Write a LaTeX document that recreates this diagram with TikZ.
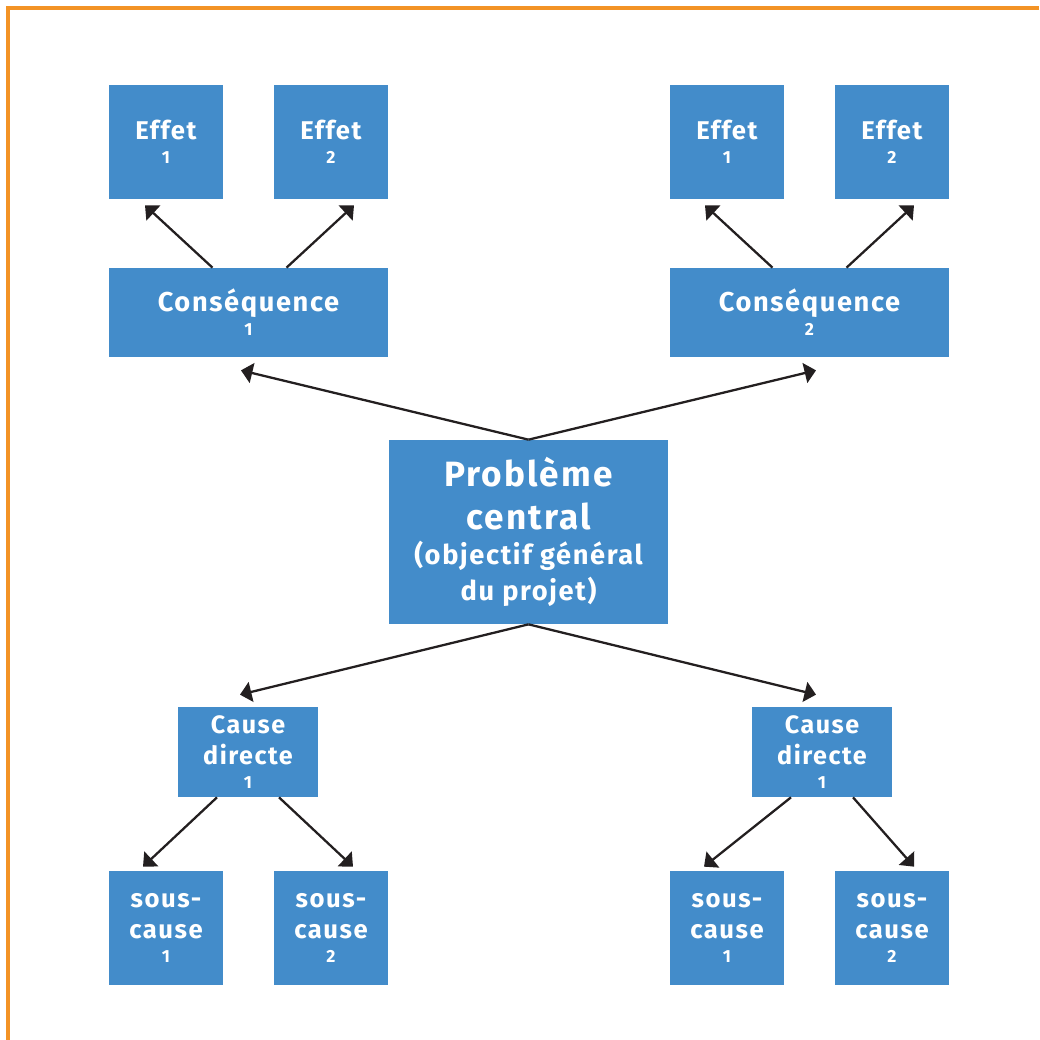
\documentclass[tikz,border=0pt]{standalone}
\usepackage{fontspec}
\setsansfont{Fira Sans}[LetterSpace=6,Ligatures=NoCommon]
\usetikzlibrary{arrows.meta,calc}
\definecolor{boxblue}{HTML}{438CCA}
\definecolor{frameorange}{HTML}{F39325}
\definecolor{arrowdark}{HTML}{231F20}
\newcommand{\numsz}{\fontsize{10}{12}\selectfont}
\newcommand{\subsz}{\fontsize{15.5}{20}\selectfont}
\tikzset{cell/.style={fill=boxblue,text=white,inner sep=0pt,align=center,font=\sffamily\bfseries\fontsize{15.5}{17.6}\selectfont},
  sqcell/.style={cell,minimum width=2.28cm,minimum height=2.28cm,font=\sffamily\bfseries\fontsize{14.6}{17.6}\selectfont},
  widecell/.style={cell,minimum width=5.58cm,minimum height=1.78cm},
  causecell/.style={cell,minimum width=2.8cm,minimum height=1.8cm,font=\sffamily\bfseries\fontsize{14.3}{17.6}\selectfont},
  probcell/.style={cell,minimum width=5.58cm,minimum height=3.68cm,font=\sffamily\bfseries\fontsize{20}{24.5}\selectfont},
  arr/.style={draw=arrowdark,line width=1.3pt,-{Triangle[length=6.5pt,width=11.5pt]}}}

\begin{document}
\begin{tikzpicture}[x=0.02cm,y=-0.02cm]
    \useasboundingbox (0,0) rectangle (1039,1040);
    \draw[frameorange,line width=1.8pt] (1039,8) -- (8,8) -- (8,1040);

    % effets
    \node[sqcell] (effA1) at (166,142) {Effet\\[-4pt]{\numsz 1}};
    \node[sqcell] (effA2) at (331,142) {Effet\\[-4pt]{\numsz 2}};
    \node[sqcell] (effB1) at (727,142) {Effet\\[-4pt]{\numsz 1}};
    \node[sqcell] (effB2) at (892,142) {Effet\\[-4pt]{\numsz 2}};

    % consequences
    \node[widecell] (consA) at (248.5,312.5) {Conséquence\\[-4pt]{\numsz 1}};
    \node[widecell] (consB) at (809.5,312.5) {Conséquence\\[-4pt]{\numsz 2}};

    % probleme central
    \node[probcell] (prob) at (528.5,532) {Problème\\central\\[-4.5pt]{\subsz (objectif général}\\[-4pt]{\subsz du projet)}};

    % causes
    \node[causecell] (causeA) at (248,752) {Cause\\directe\\[-4pt]{\numsz 1}};
    \node[causecell] (causeB) at (822,752) {Cause\\directe\\[-4pt]{\numsz 1}};

    % sous-causes
    \node[sqcell] (subA1) at (166,928) {sous-\\cause\\[-4pt]{\numsz 1}};
    \node[sqcell] (subA2) at (331,928) {sous-\\cause\\[-4pt]{\numsz 2}};
    \node[sqcell] (subB1) at (727,928) {sous-\\cause\\[-4pt]{\numsz 1}};
    \node[sqcell] (subB2) at (892,928) {sous-\\cause\\[-4pt]{\numsz 2}};

    \draw[arr] ($(consA.north)+(-36,0)$) -- ($(effA1.south)+(-21,6)$);
    \draw[arr] ($(consA.north)+(38,0)$) -- ($(effA2.south)+(23,6)$);
    \draw[arr] ($(consB.north)+(-37,0)$) -- ($(effB1.south)+(-22,6)$);
    \draw[arr] ($(consB.north)+(37,0)$) -- ($(effB2.south)+(22,6)$);

    \draw[arr] (prob.north) -- ($(consA.south)+(-7.5,13)$);
    \draw[arr] (prob.north) -- ($(consB.south)+(6.5,13)$);
    \draw[arr] (prob.south) -- ($(causeA.north)+(-8,-12)$);
    \draw[arr] (prob.south) -- ($(causeB.north)+(-6,-12)$);

    \draw[arr] ($(causeA.south)+(-31,0)$) -- ($(subA1.north)+(-23,-4)$);
    \draw[arr] ($(causeA.south)+(31,0)$) -- ($(subA2.north)+(22,-4)$);
    \draw[arr] ($(causeB.south)+(-31,0)$) -- ($(subB1.north)+(-23,-4)$);
    \draw[arr] ($(causeB.south)+(31,0)$) -- ($(subB2.north)+(22,-4)$);
\end{tikzpicture}
\end{document}
